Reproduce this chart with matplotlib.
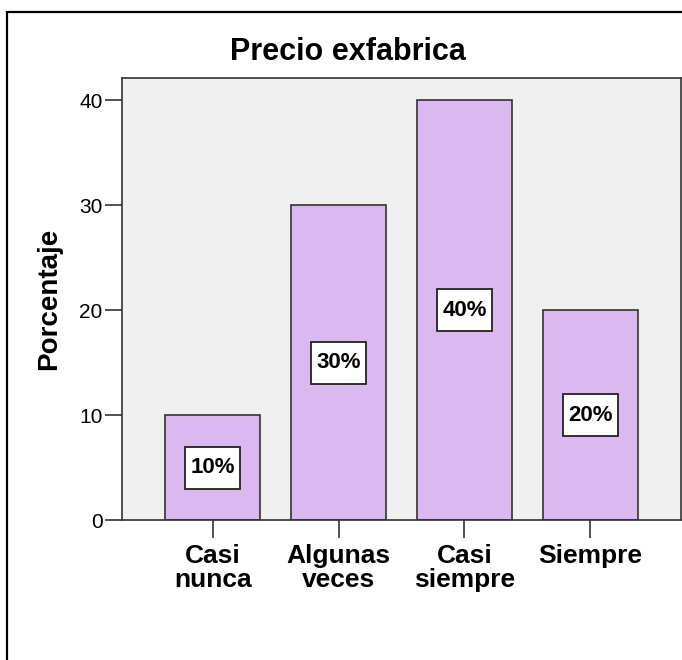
import matplotlib.pyplot as plt
from matplotlib.patches import Rectangle

#
# Data
#
categorias = ['Casi\nnunca', 'Algunas\nveces', 'Casi\nsiempre', 'Siempre']
porcentaje = [10, 30, 40, 20]
etiquetas = ['10%', '30%', '40%', '20%']
yticks = [0, 10, 20, 30, 40]

plt.rcParams['font.family'] = ['Liberation Sans', 'DejaVu Sans']

fig = plt.figure(figsize=(6.82, 6.60), dpi=100)
fig.patch.set_facecolor('white')
#
# Outer frame (cut off at right and bottom, as in the export)
#
fig.patches.append(Rectangle((7/682, -0.2), 1.5, 1.2 - 12/660, transform=fig.transFigure,
                             fill=False, edgecolor='black', linewidth=1.6))

ax = fig.add_axes([122/682, 1 - 520/660, 559/682, 442/660])
ax.set_facecolor('#f0f0f0')

x = range(len(categorias))
ax.bar(x, porcentaje, width=0.75, color='#dcb8f0', edgecolor='#333333', linewidth=1.2, zorder=2)

#
# White boxed percentage labels in the middle of each bar
#
bw, bh = 0.44, 4.0
for xi, v, lab in zip(x, porcentaje, etiquetas):
    ax.add_patch(Rectangle((xi - bw/2, v/2 - bh/2), bw, bh, facecolor='white',
                           edgecolor='#222222', linewidth=1.3, zorder=3))
    ax.text(xi, v/2, lab, ha='center', va='center', fontsize=16, fontweight='bold', zorder=4)

ax.set_xlim(-0.72, 3.72)
ax.set_ylim(0, 42.1)
ax.set_yticks(yticks)
ax.set_yticklabels([str(t) for t in yticks], fontsize=15)
ax.set_xticks(list(x))
ax.set_xticklabels(categorias, fontsize=19, fontweight='bold', linespacing=1.0)
ax.tick_params(axis='y', length=12, width=1.2, color='#333333', pad=2)
ax.tick_params(axis='x', length=13, width=1.2, color='#333333', pad=4)
for s in ax.spines.values():
    s.set_color('#333333')
    s.set_linewidth(1.2)

ax.set_ylabel('Porcentaje', fontsize=20, fontweight='bold', labelpad=12)
fig.text(348/682, 1 - 52/660, 'Precio exfabrica', ha='center', va='center',
         fontsize=22, fontweight='bold')

plt.savefig('out.png', dpi=100)
